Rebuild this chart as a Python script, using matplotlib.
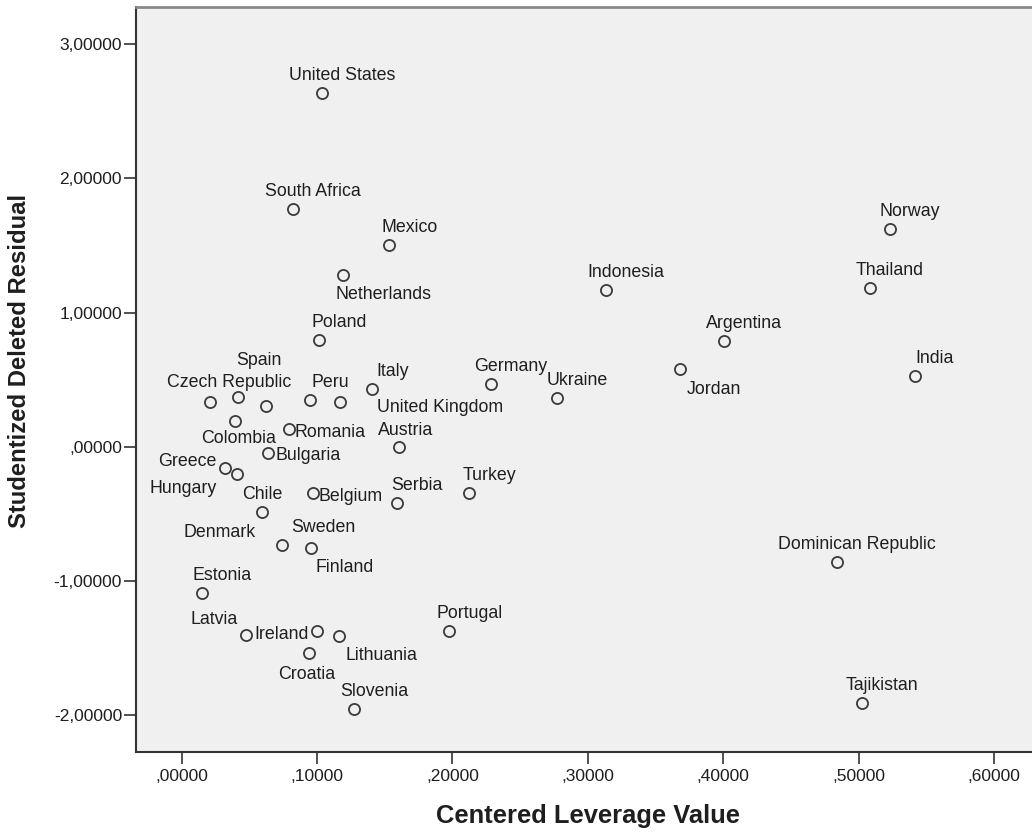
import matplotlib
matplotlib.use("Agg")
import matplotlib.pyplot as plt
from matplotlib.ticker import FixedLocator, FuncFormatter

# Regression diagnostics per country
countries = [
    "United States", "South Africa", "Mexico", "Netherlands", "Poland",
    "Indonesia", "Norway", "Thailand", "Argentina", "India",
    "Jordan", "Ukraine", "Germany", "Dominican Republic", "Tajikistan",
    "Portugal", "Czech Republic", "Spain", "Colombia", "Greece",
    "Peru", "United Kingdom", "Italy", "Romania", "Bulgaria",
    "Austria", "Hungary", "Chile", "Denmark", "Belgium",
    "Serbia", "Turkey", "Sweden", "Finland", "Estonia",
    "Latvia", "Ireland", "Lithuania", "Croatia", "Slovenia",
]
leverage = [
    0.1039, 0.0820, 0.1533, 0.1191, 0.1014,
    0.3132, 0.5232, 0.5084, 0.4008, 0.5414,
    0.3681, 0.2774, 0.2282, 0.4838, 0.5023,
    0.1977, 0.0209, 0.0414, 0.0620, 0.0394,
    0.0950, 0.1172, 0.1408, 0.0793, 0.0635,
    0.1603, 0.0322, 0.0408, 0.0595, 0.0972,
    0.1593, 0.2124, 0.0741, 0.0957, 0.0148,
    0.0475, 0.0997, 0.1162, 0.0938, 0.1271,
]
residual = [
    2.635, 1.770, 1.506, 1.278, 0.793,
    1.168, 1.623, 1.181, 0.790, 0.527,
    0.581, 0.361, 0.465, -0.857, -1.913,
    -1.372, 0.335, 0.373, 0.306, 0.192,
    0.348, 0.335, 0.428, 0.130, -0.049,
    -0.004, -0.161, -0.204, -0.485, -0.343,
    -0.422, -0.343, -0.731, -0.755, -1.093,
    -1.402, -1.374, -1.409, -1.540, -1.955,
]
x_ticks = [0.0, 0.1, 0.2, 0.3, 0.4, 0.5, 0.6]
y_ticks = [-2, -1, 0, 1, 2, 3]
x_title = "Centered Leverage Value"
y_title = "Studentized Deleted Residual"

# Label placement (pixel offset of the label centre from its marker)
DEFAULT_OFFSET = (20, 19.5)
label_offsets = {
    "Netherlands": (41, -17.5),
    "Jordan": (34, -18.5),
    "Czech Republic": (19.5, 21.5),
    "Spain": (21, 38.5),
    "Colombia": (-27.5, -30.5),
    "Greece": (-47.5, -39),
    "Hungary": (-42.5, -18.5),
    "Chile": (25, -18.5),
    "Denmark": (-42.5, -18.5),
    "Sweden": (41.5, 19.5),
    "Finland": (33.5, -18),
    "United Kingdom": (99.5, -4),
    "Romania": (41, -1.5),
    "Bulgaria": (40, 0),
    "Austria": (7, 19),
    "Belgium": (37.5, -1.5),
    "Latvia": (-32, 17.5),
    "Ireland": (-35.5, -1.5),
    "Lithuania": (42, -17.5),
    "Croatia": (-1.5, -19),
}
LABEL_BASELINE_SHIFT = -2  # aligns the text box centre with the cap height

W, H, DPI = 1032, 833, 100
FONT = ["Liberation Sans", "DejaVu Sans"]
TEXT_COLOR = "#1e1e1e"
plt.rcParams["font.family"] = FONT

fig = plt.figure(figsize=(W / DPI, H / DPI), dpi=DPI, facecolor="white")
left_px, right_px, top_px, bottom_px = 136, 1040, 7, 752.3
ax = fig.add_axes([left_px / W, 1 - bottom_px / H,
                   (right_px - left_px) / W, (bottom_px - top_px) / H])
ax.set_facecolor("#f0f0f0")

ax.plot(leverage, residual, linestyle="none", marker="o", markersize=8,
        markerfacecolor="none", markeredgecolor="#3a3a3a", markeredgewidth=1.3)

for name, xv, yv in zip(countries, leverage, residual):
    dx, dy = label_offsets.get(name, DEFAULT_OFFSET)
    ax.annotate(name, (xv, yv), xytext=(dx, dy + LABEL_BASELINE_SHIFT),
                textcoords="offset pixels", ha="center", va="center",
                fontsize=12.8, color=TEXT_COLOR)

# x: 0 at px 181.7, 1353.8 px per unit; y: 0 at px 446.7, 134.14 px per unit
ax.set_xlim((left_px - 181.7) / 1353.8, (right_px - 181.7) / 1353.8)
ax.set_ylim((446.7 - bottom_px) / 134.14, (446.7 - top_px) / 134.14)


def spss_number(v, _pos=None):
    s = f"{v:.5f}".replace(".", ",")
    if s.startswith("0,"):
        s = s[1:]
    elif s.startswith("-0,"):
        s = s[2:] if abs(v) < 1e-12 else "-" + s[2:]
    return s


ax.xaxis.set_major_locator(FixedLocator(x_ticks))
ax.yaxis.set_major_locator(FixedLocator(y_ticks))
ax.xaxis.set_major_formatter(FuncFormatter(spss_number))
ax.yaxis.set_major_formatter(FuncFormatter(spss_number))
ax.tick_params(axis="both", direction="out", length=8.5, width=1.2,
               color="#333333", labelsize=12.5, labelcolor=TEXT_COLOR)
ax.tick_params(axis="x", pad=3.5)
ax.tick_params(axis="y", pad=1.5)

ax.spines["right"].set_visible(False)
ax.spines["top"].set_color("#8a8a8a")
ax.spines["top"].set_linewidth(2.0)
for side in ("left", "bottom"):
    ax.spines[side].set_color("#333333")
    ax.spines[side].set_linewidth(1.5)

fig.text(587.8 / W, 1 - 815.7 / H, x_title, ha="center", va="center",
         fontsize=18.4, fontweight="bold", color=TEXT_COLOR)
fig.text(20 / W, 1 - 360.5 / H, y_title, ha="center", va="center",
         rotation=90, fontsize=17.2, fontweight="bold", color=TEXT_COLOR)

fig.savefig("out.png", dpi=DPI, facecolor="white")
